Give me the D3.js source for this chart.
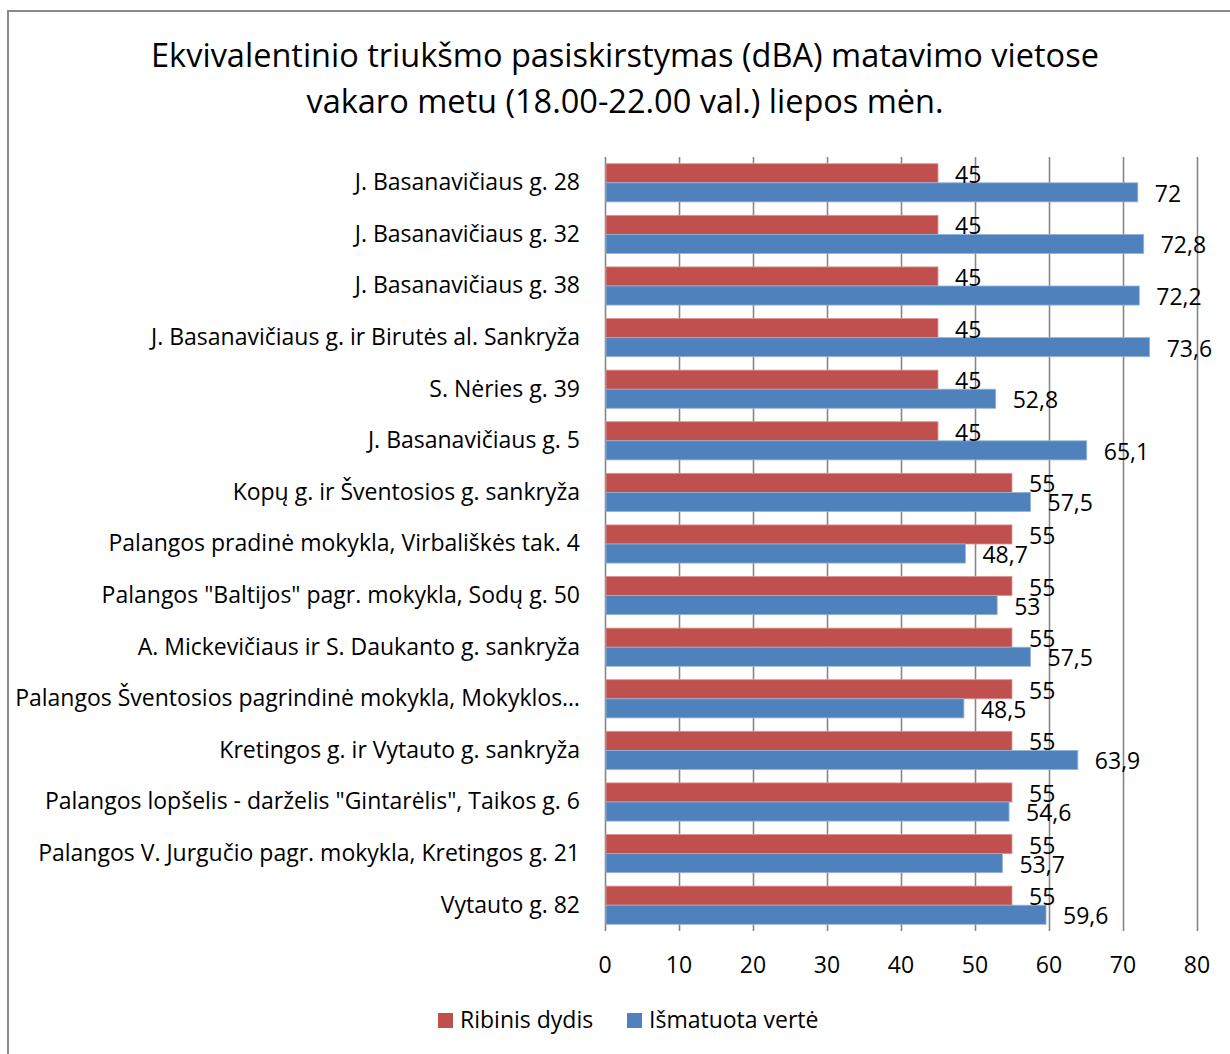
<!DOCTYPE html>
<html>
<head>
<meta charset="utf-8">
<script src="https://cdn.jsdelivr.net/npm/d3@7"></script>
<style>
  body { margin: 0; background: #fff; }
  text { font-family: "Open Sans", sans-serif; fill: #000; }
</style>
</head>
<body>
<div id="chart"></div>
<script>
// data
const categories = [
  'J. Basanavičiaus g. 28',
  'J. Basanavičiaus g. 32',
  'J. Basanavičiaus g. 38',
  'J. Basanavičiaus g. ir Birutės al. Sankryža',
  'S. Nėries g. 39',
  'J. Basanavičiaus g. 5',
  'Kopų g. ir Šventosios g. sankryža',
  'Palangos pradinė mokykla, Virbališkės tak. 4',
  'Palangos "Baltijos" pagr. mokykla, Sodų g. 50',
  'A. Mickevičiaus ir S. Daukanto g. sankryža',
  'Palangos Šventosios pagrindinė mokykla, Mokyklos…',
  'Kretingos g. ir Vytauto g. sankryža',
  'Palangos lopšelis - darželis "Gintarėlis", Taikos g. 6',
  'Palangos V. Jurgučio pagr. mokykla, Kretingos g. 21',
  'Vytauto g. 82'
];
const ribinis = [45, 45, 45, 45, 45, 45, 55, 55, 55, 55, 55, 55, 55, 55, 55];
const ismatuota = [72, 72.8, 72.2, 73.6, 52.8, 65.1, 57.5, 48.7, 53, 57.5, 48.5, 63.9, 54.6, 53.7, 59.6];
const seriesNames = ['Ribinis dydis', 'Išmatuota vertė'];
const seriesColors = ['#C0504D', '#4F81BD'];
const xTicks = [0, 10, 20, 30, 40, 50, 60, 70, 80];
const titleLines = [
  'Ekvivalentinio triukšmo pasiskirstymas (dBA) matavimo vietose',
  'vakaro metu (18.00-22.00 val.) liepos mėn.'
];

const W = 1230, H = 1054;
const margin = {top: 157, left: 605, right: 33, bottom: 123};
const width = W - margin.left - margin.right;
const height = H - margin.top - margin.bottom;
const fontSize = '23px';

const svg = d3.select('#chart').append('svg')
  .attr('width', W)
  .attr('height', H);

// outer frame, runs off the right and bottom edges
svg.append('rect')
  .attr('x', 8).attr('y', 11)
  .attr('width', 1260).attr('height', 1080)
  .attr('fill', 'none')
  .attr('stroke', '#8a8a8a')
  .attr('stroke-width', 2);

svg.selectAll('.title')
  .data(titleLines)
  .enter()
  .append('text')
  .attr('class', 'title')
  .attr('x', 625)
  .attr('y', (d, i) => 67 + i * 46)
  .attr('text-anchor', 'middle')
  .style('font-size', '32.5px')
  .text(d => d);

const chart = svg.append('g')
  .attr('transform', `translate(${margin.left},${margin.top})`);

const x = d3.scaleLinear().domain([0, 80]).range([0, width]);
const y = d3.scaleBand().domain(categories).range([0, height])
  .paddingInner(0.26).paddingOuter(0.13);
const ySub = d3.scaleBand().domain(seriesNames).range([0, y.bandwidth()]);

// gridlines
const grid = chart.append('g')
  .attr('class', 'grid')
  .attr('transform', `translate(0,${height})`)
  .call(d3.axisBottom(x).tickValues(xTicks).tickSize(-height).tickFormat(''));
grid.select('.domain').remove();
grid.selectAll('line').attr('stroke', '#878787').attr('stroke-width', 1.6);

// tick labels
chart.append('g')
  .selectAll('text')
  .data(xTicks)
  .enter()
  .append('text')
  .attr('x', d => x(d))
  .attr('y', height + 42)
  .attr('text-anchor', 'middle')
  .style('font-size', fontSize)
  .text(d => d);

// category labels
const yAxis = chart.append('g')
  .call(d3.axisLeft(y).tickSize(0).tickPadding(25));
yAxis.select('.domain').remove();
yAxis.selectAll('text')
  .style('font-size', fontSize)
  .style('font-family', '"Open Sans", sans-serif')
  .attr('dy', '0.32em');

const rows = categories.map((c, i) => ({cat: c, vals: [ribinis[i], ismatuota[i]]}));

const groups = chart.selectAll('.row')
  .data(rows)
  .enter()
  .append('g')
  .attr('class', 'row')
  .attr('transform', d => `translate(0,${y(d.cat)})`);

groups.selectAll('rect')
  .data(d => d.vals.map((v, k) => ({k, v})))
  .enter()
  .append('rect')
  .attr('x', x(0) + 1)
  .attr('y', d => ySub(seriesNames[d.k]))
  .attr('width', d => x(d.v) - x(0) - 1)
  .attr('height', ySub.bandwidth())
  .attr('fill', d => seriesColors[d.k])
  .attr('stroke', d => d.k === 0 ? '#d99694' : '#95b3d7')
  .attr('stroke-width', 0.8);

groups.selectAll('.val')
  .data(d => d.vals.map((v, k) => ({k, v})))
  .enter()
  .append('text')
  .attr('class', 'val')
  .attr('x', d => x(d.v) + 17)
  .attr('y', d => ySub(seriesNames[d.k]) + ySub.bandwidth() / 2 + 9.5)
  .style('font-size', fontSize)
  .text(d => String(d.v).replace('.', ','));

// legend
const legend = svg.append('g').attr('transform', 'translate(438,1013)');
const legendX = [0, 189];
seriesNames.forEach((name, i) => {
  const g = legend.append('g').attr('transform', `translate(${legendX[i]},0)`);
  g.append('rect')
    .attr('width', 15).attr('height', 15)
    .attr('fill', seriesColors[i]);
  g.append('text')
    .attr('x', 22).attr('y', 15)
    .style('font-size', fontSize)
    .text(name);
});
</script>
</body>
</html>
